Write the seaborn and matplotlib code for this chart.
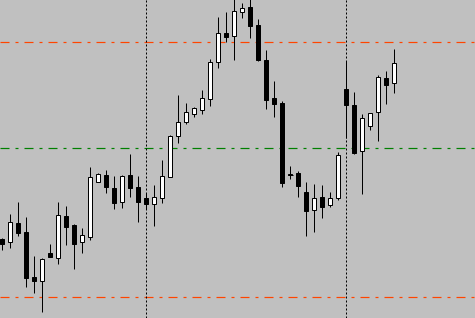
import matplotlib
matplotlib.use("Agg")
import matplotlib.pyplot as plt
import seaborn as sns
import numpy as np
import pandas as pd

# OHLC data (arbitrary price units)
opens  = [79, 76, 95, 86, 41, 37, 65, 60, 102, 93, 76, 81, 136, 143, 130, 116, 143, 131, 120, 114,
          120, 141, 182, 196, 204, 208, 219, 256, 285, 282, 306, 311, 293, 258, 220, 215, 143.5, 145, 126, 108,
          121, 113, 120, 229, 213, 167, 192, 206, 240, 235]
closes = [74, 96, 85, 40, 37, 59, 61, 103, 91, 74, 83, 141, 144, 131, 115, 142, 130, 116, 114, 121,
          142, 182, 196, 206, 210, 220, 256, 285, 281, 307, 310, 292, 258, 218, 214, 135, 143.5, 132, 107, 120,
          111, 120, 163, 213, 165, 200, 205, 241, 233, 255]
highs  = [80, 104, 116, 101, 62, 60, 74, 116, 112, 94, 90, 151, 145, 148, 142, 143, 164, 142, 125, 133,
          158, 183, 223, 215, 211, 228, 259, 301, 306, 320, 315, 320, 299, 268, 237, 217, 152, 147, 136, 134,
          133, 126, 166, 257, 226, 204, 205, 243, 247, 269]
lows   = [68, 70, 82, 31, 25, 6, 61, 54, 73, 49, 65, 78, 136, 125, 109, 110, 121, 96, 109, 92,
          115, 141, 175, 194, 201, 204, 212, 250, 276, 258, 300, 280, 257, 209, 201, 131, 139, 121, 82, 86,
          100, 111, 118, 180, 164, 124, 188, 177, 214, 225]

levels = [276, 170, 21]
level_colors = ["#ff4500", "#008000", "#ff4500"]
separators = [18, 43]

df = pd.DataFrame({"i": np.arange(len(opens)), "open": opens, "close": closes,
                   "high": highs, "low": lows})
df["bull"] = df["close"] >= df["open"]
df["bottom"] = df[["open", "close"]].min(axis=1)
df["height"] = (df["close"] - df["open"]).abs().clip(lower=0.01)

sns.set_theme(style="white", rc={"axes.facecolor": "#c0c0c0", "figure.facecolor": "#c0c0c0"})
plt.rcParams["lines.scale_dashes"] = False

dpi = 100
fig = plt.figure(figsize=(4.75, 3.18), dpi=dpi)
ax = fig.add_axes([0, 0, 1, 1])
ax.set_facecolor("#c0c0c0")

px = 72.0 / dpi  # one pixel in points

# horizontal levels
for lv, col in zip(levels, level_colors):
    ax.axhline(lv, color=col, lw=1.2 * px, linestyle=(0, (9 * px, 6 * px, 3 * px, 6 * px)), zorder=1)

# vertical separators
for s in separators:
    ax.axvline(s, color="black", lw=1.0 * px, linestyle=(0, (2 * px, 2 * px)), zorder=1)

# wicks
ax.vlines(df["i"], df["low"], df["high"], color="black", lw=1.0 * px, zorder=2)

# bodies
colors = np.where(df["bull"], "white", "black")
ax.bar(df["i"], df["height"], bottom=df["bottom"], width=0.5, color=colors,
       edgecolor="black", linewidth=1.0 * px, zorder=3)
# doji
doji = df[(df["close"] - df["open"]).abs() < 0.5]
ax.hlines(doji["open"], doji["i"] - 0.3, doji["i"] + 0.3, color="black", lw=1.0 * px, zorder=3)

xmin = -2.3 / 8
ax.set_xlim(xmin, xmin + 475 / 8)
ax.set_ylim(0, 318)
ax.set_xticks([])
ax.set_yticks([])
for sp in ax.spines.values():
    sp.set_visible(False)

fig.savefig("out.png", dpi=dpi, facecolor="#c0c0c0")
